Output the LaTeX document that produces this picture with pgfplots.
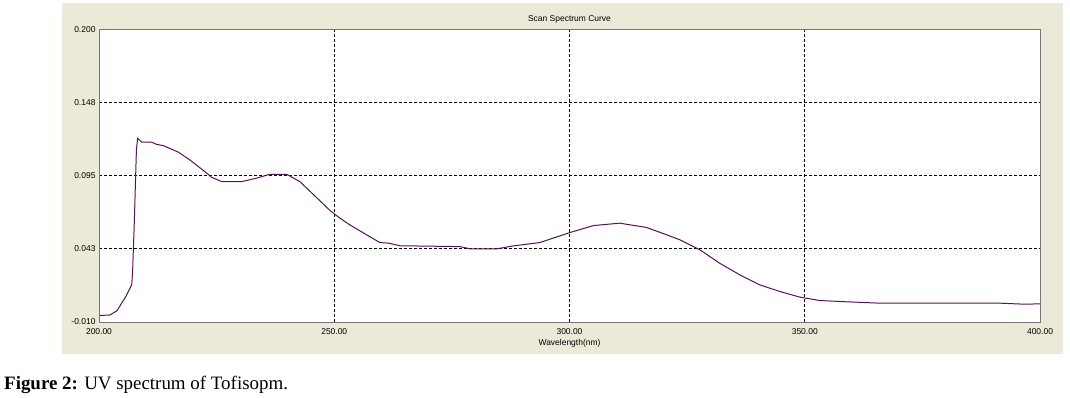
\documentclass[border=0pt]{standalone}
\usepackage{fontspec}
\setmainfont{Liberation Serif}
\newfontfamily\uifont{Liberation Sans}
\usepackage{pgfplots}
\pgfplotsset{compat=1.18}
\definecolor{panel}{HTML}{ECE9D8}
\definecolor{curve}{RGB}{85,20,85}
\definecolor{frame}{RGB}{120,120,120}
\begin{document}
\begin{tikzpicture}[x=1bp,y=1bp]
\useasboundingbox (0,0) rectangle (1070,397);
\fill[panel] (62,43.5) rectangle (1063,394);
\begin{axis}[
  at={(99bp,75bp)}, anchor=south west,
  scale only axis, width=941bp, height=292.7bp,
  xmin=200, xmax=400, ymin=-0.010, ymax=0.200,
  axis background/.style={fill=white},
  xtick={200,250,300,350,400},
  xticklabels={200.00,250.00,300.00,350.00,400.00},
  ytick={-0.01,0.0425,0.095,0.1475,0.2},
  yticklabels={-0.010,0.043,0.095,0.148,0.200},
  grid=major,
  major grid style={black, line width=0.8bp, dash pattern=on 3bp off 2bp},
  axis line style={frame, line width=1bp},
  tick style={draw=none},
  ticklabel style={font=\uifont\fontsize{8.5}{10}\selectfont},
  xticklabel style={yshift=-3bp},
  /pgf/number format/assume math mode=true,
  clip=true,
]
\addplot[curve, line width=1bp] coordinates {
(200.2,-0.0053) (202.3,-0.0050) (203.8,-0.0020) (205.7,0.0083)
(206.95,0.0167) (207.14,0.0262) (207.5,0.0610) (207.8,0.0960)
(207.95,0.1135) (208.2,0.1218) (209.1,0.1190) (211.2,0.1190)
(212.2,0.1175) (213.7,0.1165) (216.9,0.1118) (219.3,0.1063)
(222.9,0.0968) (223.9,0.0939) (226.1,0.0907) (230.3,0.0907)
(233.5,0.0932) (236.3,0.0960) (239.9,0.0960) (242.7,0.0907)
(246.6,0.0781) (249.1,0.0700) (251.2,0.0645) (253.3,0.0597)
(256.9,0.0525) (259.7,0.0470) (261.5,0.0466) (264.0,0.0447)
(276.7,0.0441) (278.9,0.0425) (284.5,0.0425) (288.1,0.0446)
(293.7,0.0470) (300.1,0.0542) (305.1,0.0592) (310.7,0.0609)
(316.4,0.0578) (320.7,0.0525) (323.5,0.0489) (327.7,0.0418)
(331.9,0.0322) (336.2,0.0238) (340.4,0.0167) (344.7,0.0119)
(348.9,0.0079) (353.2,0.0054) (358.9,0.0045) (366.0,0.0035)
(391.5,0.0035) (396.5,0.0028) (400.0,0.0030)
};
\end{axis}
\node[font=\uifont\fontsize{8.5}{10}\selectfont] at (569.5,378) {Scan Spectrum Curve};
\node[font=\uifont\fontsize{8.5}{10}\selectfont] at (569.5,54) {Wavelength(nm)};
\node[anchor=base west, inner sep=0pt] at (4,8) {\fontsize{19}{21}\selectfont\textbf{Figure 2:} UV spectrum of Tofisopm.};
\end{tikzpicture}
\end{document}
